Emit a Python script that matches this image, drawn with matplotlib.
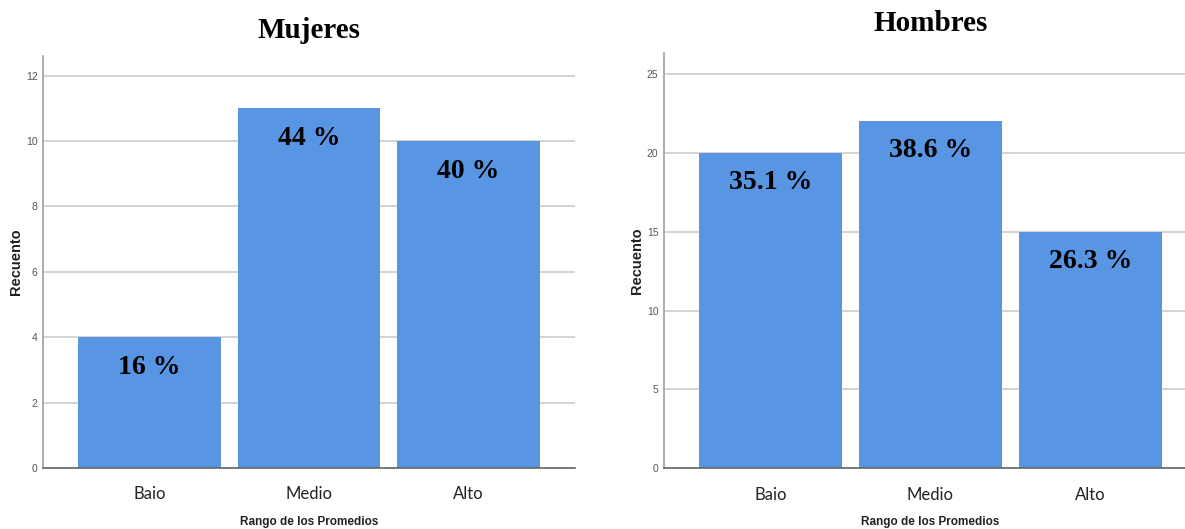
import matplotlib.pyplot as plt

# Counts per average range, by group
categorias = ['Baio', 'Medio', 'Alto']
mujeres = [4, 11, 10]
hombres = [20, 22, 15]

mujeres_ticks = [0, 2, 4, 6, 8, 10, 12]
hombres_ticks = [0, 5, 10, 15, 20, 25]

bar_color = '#5895e3'
sans = ['Liberation Sans', 'DejaVu Sans']

fig = plt.figure(figsize=(11.85, 5.29), dpi=100)
ax1 = fig.add_axes([0.0363, 0.1153, 0.4489, 0.7788])
ax2 = fig.add_axes([0.5603, 0.1144, 0.4498, 0.7854])


def draw_panel(ax, counts, ticks, ymax, title, decimals, title_pad):
    total = sum(counts)
    x = range(len(categorias))
    ax.set_axisbelow(True)
    bars = ax.bar(x, counts, width=0.894, color=bar_color, zorder=2)
    for b, v in zip(bars, counts):
        pct = v / total * 100
        ax.annotate(f'{pct:.{decimals}f} %', (b.get_x() + b.get_width() / 2, v),
                    xytext=(0, -30), textcoords='offset pixels',
                    ha='center', va='center', fontsize=20, fontweight='bold',
                    family='Liberation Serif', color='black')
    ax.set_xlim(-0.666, 2.666)
    ax.set_ylim(0, ymax)
    ax.set_yticks(ticks)
    ax.set_yticklabels([str(t) for t in ticks], fontsize=7.5, family=sans, color='#555555')
    ax.set_xticks(list(x))
    ax.set_xticklabels(categorias, fontsize=12, family='Lato', color='#222222')
    ax.tick_params(axis='y', length=0, pad=4)
    ax.tick_params(axis='x', length=0, pad=13)
    ax.yaxis.grid(True, color='#d0d0d0', linewidth=1.3)
    for s in ['top', 'right']:
        ax.spines[s].set_visible(False)
    ax.spines['left'].set_color('#a0a0a0')
    ax.spines['left'].set_linewidth(1.2)
    ax.spines['bottom'].set_color('#666666')
    ax.spines['bottom'].set_linewidth(1.2)
    ax.set_ylabel('Recuento', fontsize=10.5, fontweight='bold', family=sans,
                  color='#222222', labelpad=2)
    ax.set_xlabel('Rango de los Promedios', fontsize=8.5, fontweight='bold', family=sans,
                  color='#222222', labelpad=10)
    ax.set_title(title, fontsize=21, fontweight='bold', family='Liberation Serif', pad=title_pad)


draw_panel(ax1, mujeres, mujeres_ticks, 12.6, 'Mujeres', 0, 13)
draw_panel(ax2, hombres, hombres_ticks, 26.3, 'Hombres', 1, 16)

fig.savefig('out.png', dpi=100)
